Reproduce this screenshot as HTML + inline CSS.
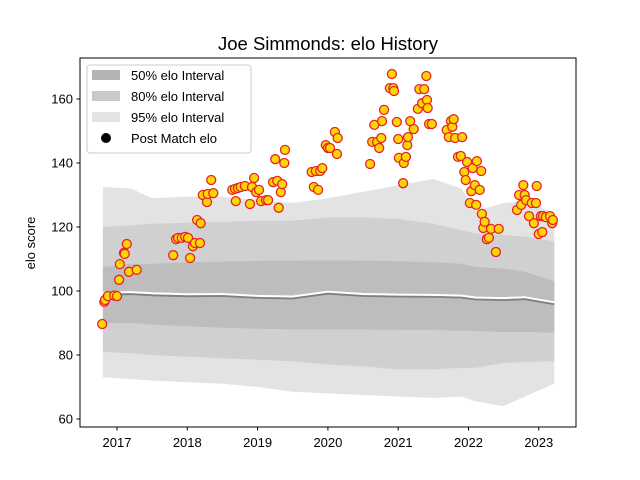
<!DOCTYPE html>
<html><head><meta charset="utf-8"><style>
body{margin:0;background:#fff}
svg{display:block;font-family:"Liberation Sans",sans-serif}
</style></head><body>
<svg id="chart" width="640" height="480" viewBox="0 0 640 480">
<rect x="0" y="0" width="640" height="480" fill="#fff"/>
<text x="328" y="50" font-size="18.5" text-anchor="middle">Joe Simmonds: elo History</text>
<g id="bands"></g>
<g id="lines"></g>
<g id="points"></g>
<rect x="80" y="58" width="496" height="369" fill="none" stroke="#000" stroke-width="1"/>
<g id="axes"></g>
<text transform="translate(35,243) rotate(-90)" font-size="13" text-anchor="middle">elo score</text>
<g>
<rect x="87" y="65" width="164" height="88" rx="3" fill="#fff" fill-opacity="0.8" stroke="#ccc"/>
<rect x="92" y="70" width="28" height="10" fill="#b3b3b3"/>
<text x="131" y="80" font-size="13">50% elo Interval</text>
<rect x="92" y="91" width="28" height="10" fill="#c9c9c9"/>
<text x="131" y="101" font-size="13">80% elo Interval</text>
<rect x="92" y="112" width="28" height="10" fill="#e3e3e3"/>
<text x="131" y="122" font-size="13">95% elo Interval</text>
<circle cx="106" cy="138" r="5" fill="#000"/>
<text x="131" y="143" font-size="13">Post Match elo</text>
</g>
</svg>
<script>
const bandDates=[2016.80,2017.2,2017.5,2018.0,2018.5,2019.0,2019.5,2020.0,2020.5,2021.0,2021.5,2021.9,2022.1,2022.5,2022.8,2023.22];
const hi95=[132.5,132,129,129.5,129.4,128.5,127.5,129,131,133,135,132,125,127.5,128,124.5];
const hi80=[120,120.5,121,121.3,121.6,122,122,123,123,122.5,121,119,118,117.5,117,115.5];
const hi50=[107.5,108.5,108.5,109,109.2,109.4,109.5,109.6,109.5,109.3,109,108.5,107.5,107,106,103];
const median=[99,99.2,98.8,98.5,98.6,98,97.8,99.3,98.6,98.4,98.3,98.1,97.5,97.3,97.6,96];
const lo50=[90,90,89.5,89,88.5,88.2,88,88,88,87.8,87.8,87.6,87.5,87.2,87.2,87];
const lo80=[81,80.5,80,79.5,79,78.5,78,77,76.5,75.5,75.5,76,76,77.5,77.8,78];
const lo95=[73,72.5,72,71.5,71,70,68.5,68,67.5,67,66.6,67,65.5,64,67,71];
const ptDates=[2016.79,2016.82,2016.83,2016.87,2016.96,2017.00,2017.03,2017.04,2017.10,2017.11,2017.14,2017.17,2017.28,
2017.80,2017.84,2017.87,2017.92,2017.97,2018.01,2018.04,2018.08,2018.11,2018.14,2018.18,2018.19,2018.22,2018.28,2018.29,2018.34,2018.37,
2018.64,2018.68,2018.69,2018.72,2018.76,2018.82,2018.89,2018.92,2018.95,2018.98,2019.02,2019.05,2019.12,2019.15,2019.22,2019.25,2019.28,2019.30,2019.33,2019.35,2019.38,2019.39,
2019.77,2019.80,2019.83,2019.86,2019.89,2019.92,2019.97,2020.00,2020.03,2020.10,2020.13,2020.14,
2020.60,2020.63,2020.66,2020.70,2020.73,2020.76,2020.77,2020.80,2020.88,2020.91,2020.93,2020.94,2020.98,2021.00,2021.01,2021.07,2021.08,2021.11,2021.13,2021.14,2021.17,2021.22,2021.28,2021.30,2021.34,2021.37,2021.40,2021.41,2021.42,2021.44,2021.48,
2021.69,2021.72,2021.75,2021.77,2021.79,2021.81,2021.85,2021.89,2021.91,2021.94,2021.96,2021.98,2022.02,2022.04,2022.06,2022.09,2022.11,2022.12,2022.16,2022.18,2022.19,2022.21,2022.23,2022.26,2022.29,2022.32,2022.39,2022.43,
2022.69,2022.72,2022.75,2022.78,2022.80,2022.82,2022.86,2022.90,2022.93,2022.96,2022.97,2023.00,2023.03,2023.05,2023.06,2023.10,2023.16,2023.19,2023.20];
const ptValues=[89.7,96.6,97.2,98.4,98.6,98.4,103.5,108.4,111.9,111.6,114.7,106,106.6,
111.2,116.2,116.6,116.6,116.9,116.6,110.3,114,115,122.2,115,121.2,130,127.8,130.3,134.7,130.6,
131.6,131.9,128.1,132.2,132.5,132.8,127.2,132.5,135.3,130.9,131.6,128.1,128.4,128.4,134,141.2,134.4,126,130.9,133.4,140,144.1,
137.2,132.5,137.5,131.6,137.5,138.4,145.6,144.7,144.7,149.7,142.8,147.8,
139.7,146.6,151.9,146.6,144.7,147.8,153.1,156.6,163.4,167.8,163.4,162.5,152.8,147.5,141.6,133.7,140,141.9,145.6,148.1,153.1,150.6,156.9,163.1,158.7,163.1,167.2,159.7,157.2,152.2,152.2,
150.3,148.1,153.1,151.3,153.7,147.8,141.9,142.2,148.1,137.2,134.7,140.3,127.5,131.2,138.4,133.1,126.9,140.6,131.6,137.5,124.1,119.7,121.6,116.2,116.6,119.4,112.2,119.4,
125.3,130,126.9,133.1,130,128.4,123.4,127.5,121.2,127.5,132.8,117.8,123.4,118.4,123.4,123.1,123.4,121.2,122.2];
const yTicks=[60,80,100,120,140,160];
const xTicks=[2017,2018,2019,2020,2021,2022,2023];

const NS="http://www.w3.org/2000/svg";
function X(t){return 117+(t-2017)*70.3;}
function Y(v){return 419-(v-60)*3.2;}
function mk(tag,attrs,parent){const e=document.createElementNS(NS,tag);for(const k in attrs)e.setAttribute(k,attrs[k]);parent.appendChild(e);return e;}
const bands=document.getElementById('bands');
function band(hi,lo,color,name){
  let d='';
  bandDates.forEach((t,i)=>{d+=(i?'L':'M')+X(t).toFixed(1)+','+Y(hi[i]).toFixed(1);});
  for(let i=bandDates.length-1;i>=0;i--)d+='L'+X(bandDates[i]).toFixed(1)+','+Y(lo[i]).toFixed(1);
  const p=mk('path',{d:d+'Z',fill:color},bands);
  
  
}
band(hi95,lo95,'#e3e3e3','band-95');
band(hi80,lo80,'#d0d0d0','band-80');
band(hi50,lo50,'#bdbdbd','band-50');
const lines=document.getElementById('lines');
function line(vals,off,color,w,name){
  const d=bandDates.map((t,i)=>(i?'L':'M')+X(t).toFixed(1)+','+(Y(vals[i])+off).toFixed(1)).join('');
  const p=mk('path',{d:d,fill:'none',stroke:color,'stroke-width':w},lines);
  
  
}
line(median,-1.5,'#ffffff',2,'pre-match-line');
line(median,0.5,'#808080',1.8,'median-line');
const pts=document.getElementById('points');
ptDates.forEach((t,i)=>{
  const c=mk('circle',{cx:X(t).toFixed(1),cy:Y(ptValues[i]).toFixed(1),r:4.5,fill:'#ffd700',stroke:'#e8202a','stroke-width':1.3},pts);
  
  
});
const axes=document.getElementById('axes');
yTicks.forEach(v=>{
  const y=Y(v);
  const l=mk('line',{x1:76.5,x2:80,y1:y,y2:y,stroke:'#000'},axes);
  
  
  const tx=mk('text',{x:73,y:y+4.5,'font-size':13,'text-anchor':'end'},axes);
  tx.textContent=v;
  
  
});
xTicks.forEach(v=>{
  const x=X(v);
  const l=mk('line',{x1:x,x2:x,y1:427,y2:430.5,stroke:'#000'},axes);
  
  
  const tx=mk('text',{x:x,y:447,'font-size':13,'text-anchor':'middle'},axes);
  tx.textContent=v;
  
  
});
</script>
</body></html>
